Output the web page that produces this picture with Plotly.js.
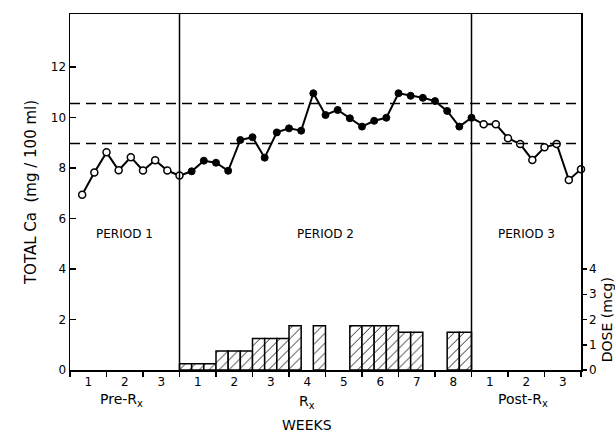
<!DOCTYPE html>
<html>
<head>
<meta charset="utf-8">
<script src="https://cdn.plot.ly/plotly-3.0.1.min.js"></script>
<style>html,body{margin:0;padding:0;background:#fff;}#chart{width:615px;height:434px;}</style>
</head>
<body>
<div id="chart"></div>
<script>
// Total Ca (mg/100 ml), three measurements per week
var caPre  = [6.94, 7.82, 8.62, 7.91, 8.43, 7.90, 8.31, 7.90, 7.70];
var caRx   = [7.87, 8.29, 8.21, 7.89, 9.11, 9.22, 8.41, 9.41, 9.57, 9.48, 10.96, 10.10,
              10.30, 9.97, 9.64, 9.87, 9.99, 10.96, 10.86, 10.78, 10.65, 10.26, 9.64, 9.99];
var caPost = [9.73, 9.73, 9.18, 8.95, 8.32, 8.82, 8.95, 7.53, 7.95];
// Dose (mcg) per one-third-week interval during Rx (null = no dose)
var dose = [0.25, 0.25, 0.25, 0.75, 0.75, 0.75, 1.25, 1.25, 1.25, 1.75, null, 1.75,
            null, null, 1.75, 1.75, 1.75, 1.75, 1.5, 1.5, null, null, 1.5, 1.5];
// Normal range (dashed lines)
var normalRange = [8.97, 10.56];
// Week tick labels
var weekLabels = ['1','2','3','1','2','3','4','5','6','7','8','1','2','3'];
var periodNames = ['PERIOD 1', 'PERIOD 2', 'PERIOD 3'];
var phaseNames = ['Pre-R<sub>x</sub>', 'R<sub>x</sub>', 'Post-R<sub>x</sub>'];
var preWeeks = 3, rxWeeks = 8, postWeeks = 3;

var perWeek = 3;
function xs(arr, startWeek) { return arr.map(function(_, i){ return startWeek + (i + 1) / perWeek; }); }
var xPre = xs(caPre, 0);
var xRx = xs(caRx, preWeeks);
var xPost = xs(caPost, preWeeks + rxWeeks);
var xDose = dose.map(function(_, i){ return preWeeks + (i + 0.5) / perWeek; });
var totalWeeks = preWeeks + rxWeeks + postWeeks;

var tickVals = weekLabels.map(function(_, i){ return i + 0.5; });
var boundaryVals = [];
for (var k = 0; k <= totalWeeks; k++) boundaryVals.push(k);

var FONT = 'DejaVu Sans, Liberation Sans, sans-serif';

var traces = [
  {
    type: 'bar', x: xDose, y: dose, width: 1 / perWeek, yaxis: 'y2',
    marker: { color: 'white', line: { color: 'black', width: 1.5 },
              pattern: { shape: '/', fgcolor: 'black', bgcolor: 'white', size: 7, solidity: 0.12 } },
    hoverinfo: 'skip'
  },
  {
    type: 'scatter', mode: 'lines', cliponaxis: false,
    x: xPre.concat(xRx, xPost), y: caPre.concat(caRx, caPost),
    line: { color: 'black', width: 2 }, hoverinfo: 'skip'
  },
  {
    type: 'scatter', mode: 'markers', cliponaxis: false, x: xPre.concat(xPost), y: caPre.concat(caPost),
    marker: { symbol: 'circle', size: 7, color: 'white', line: { color: 'black', width: 1.5 } }
  },
  {
    type: 'scatter', mode: 'markers', cliponaxis: false, x: xRx, y: caRx,
    marker: { symbol: 'circle', size: 7, color: 'black', line: { color: 'black', width: 1 } }
  }
];

var shapes = [
  { type: 'line', xref: 'x', yref: 'paper', x0: preWeeks, x1: preWeeks, y0: 0, y1: 1, line: { color: 'black', width: 1.5 } },
  { type: 'line', xref: 'x', yref: 'paper', x0: preWeeks + rxWeeks, x1: preWeeks + rxWeeks, y0: 0, y1: 1, line: { color: 'black', width: 1.5 } }
];
normalRange.forEach(function(v){
  shapes.push({ type: 'line', xref: 'paper', yref: 'y', x0: 0, x1: 1, y0: v, y1: v,
                line: { color: 'black', width: 1.5, dash: '10px,6px' } });
});

var periodCenters = [preWeeks / 2, preWeeks + rxWeeks / 2, preWeeks + rxWeeks + postWeeks / 2];
var annotations = [];
periodNames.forEach(function(t, i){
  annotations.push({ x: periodCenters[i], y: 5.4, xref: 'x', yref: 'y', text: t, showarrow: false,
                     font: { family: FONT, size: 12, color: 'black' } });
});
var phaseX = [1.4, 6.5, 12.4];
var phaseY = [-0.085, -0.09, -0.085];
phaseNames.forEach(function(t, i){
  annotations.push({ x: phaseX[i], y: phaseY[i], xref: 'x', yref: 'paper', text: t, showarrow: false,
                     yanchor: 'middle', font: { family: FONT, size: 14, color: 'black' } });
});
annotations.push({ x: 6.5, y: -0.155, xref: 'x', yref: 'paper', text: 'WEEKS', showarrow: false,
                   yanchor: 'middle', font: { family: FONT, size: 14, color: 'black' } });
annotations.push({ x: 1.07, y: 2.0, xref: 'paper', yref: 'y2', text: 'DOSE (mcg)', showarrow: false,
                   textangle: -90, font: { family: FONT, size: 14, color: 'black' } });

var layout = {
  width: 615, height: 434,
  margin: { l: 70, r: 34, t: 13.5, b: 63.5 },
  paper_bgcolor: 'white', plot_bgcolor: 'white',
  showlegend: false, bargap: 0,
  font: { family: FONT, size: 12, color: 'black' },
  xaxis: {
    range: [0, totalWeeks], showgrid: false, zeroline: false,
    showline: true, linecolor: 'black', linewidth: 1.5, mirror: true,
    tickmode: 'array', tickvals: tickVals, ticktext: weekLabels, ticks: '',
    tickfont: { family: FONT, size: 12 },
    minor: { tickmode: 'array', tickvals: boundaryVals, ticks: 'outside', ticklen: 5, tickwidth: 1.5, tickcolor: 'black', showgrid: false }
  },
  yaxis: {
    range: [0, 14.1], showgrid: false, zeroline: false,
    showline: true, linecolor: 'black', linewidth: 1.5, mirror: true,
    tickmode: 'array', tickvals: [0, 2, 4, 6, 8, 10, 12], ticks: 'inside', ticklen: 6, tickwidth: 1.5, tickcolor: 'black',
    tickfont: { family: FONT, size: 12 },
    title: { text: 'TOTAL Ca  (mg / 100 ml)', font: { family: FONT, size: 15 }, standoff: 10 }
  },
  yaxis2: {
    overlaying: 'y', side: 'right', range: [0, 14.1], showgrid: false, zeroline: false,
    showline: true, linecolor: 'black', linewidth: 1.5,
    tickmode: 'array', tickvals: [0, 1, 2, 3, 4], ticks: 'outside', ticklen: 4, tickwidth: 1.5, tickcolor: 'black',
    tickfont: { family: FONT, size: 12 }
  },
  shapes: shapes,
  annotations: annotations
};

Plotly.newPlot('chart', traces, layout, { staticPlot: true, displayModeBar: false });
</script>
</body>
</html>
